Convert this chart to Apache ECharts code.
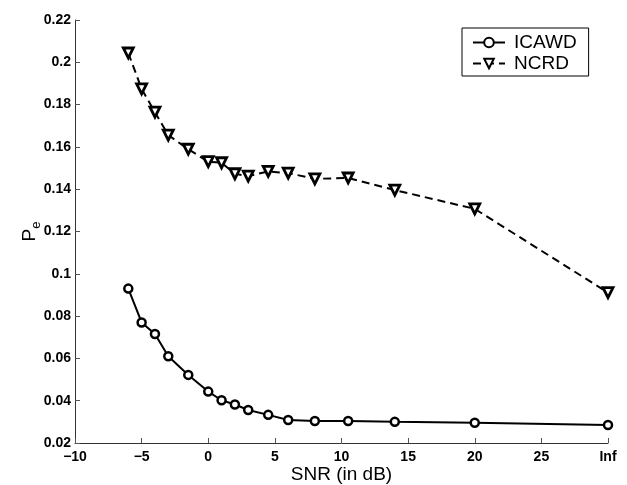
<!DOCTYPE html>
<html>
<head>
<meta charset="utf-8">
<script src="https://cdn.jsdelivr.net/npm/echarts@6/dist/echarts.min.js"></script>
<style>html,body{margin:0;padding:0;background:#fff}#c{width:627px;height:485px}</style>
</head>
<body>
<div id="c"></div>
<script>
const snr = [-6, -5, -4, -3, -1.5, 0, 1, 2, 3, 4.5, 6, 8, 10.5, 14, 20, 30];
const icawd = [0.093, 0.077, 0.0715, 0.061, 0.0522, 0.0443, 0.0402, 0.0382, 0.0356, 0.0333, 0.0309, 0.0304, 0.0304, 0.0300, 0.0296, 0.0285];
const ncrd = [0.2044, 0.1874, 0.1764, 0.1656, 0.1589, 0.153, 0.1525, 0.1473, 0.1462, 0.1484, 0.1476, 0.1449, 0.1453, 0.1396, 0.1307, 0.0911];
const xTickValues = [-10, -5, 0, 5, 10, 15, 20, 25, 30];
const xTickLabels = ['\u221210', '\u22125', '0', '5', '10', '15', '20', '25', 'Inf'];
const seriesNames = ['ICAWD', 'NCRD'];

const FONT = '"Liberation Sans", Arial, Helvetica, sans-serif';
const chart = echarts.init(document.getElementById('c'), null, {renderer: 'canvas'});
function axisLine() { return {show: true, onZero: false, lineStyle: {color: '#333', width: 1}}; }
const tick = {show: true, inside: true, length: 5, lineStyle: {color: '#555', width: 1}};
const labelBase = {color: '#000', fontWeight: 'bold', fontSize: 14, fontFamily: FONT};
chart.setOption({
  animation: false,
  backgroundColor: '#fff',
  grid: {left: 75, right: 19, top: 20, bottom: 42, containLabel: false, outerBoundsMode: 'none'},
  xAxis: {
    type: 'value', min: -10, max: 30, interval: 5,
    axisLine: axisLine(), axisTick: tick, splitLine: {show: false},
    name: 'SNR (in dB)', nameLocation: 'middle', nameGap: 22, nameMoveOverlap: false,
    nameTextStyle: {fontSize: 19, fontFamily: FONT, color: '#000', verticalAlign: 'top'},
    axisLabel: Object.assign({}, labelBase, {
      margin: 7,
      formatter: function (v) { const i = xTickValues.indexOf(v); return i >= 0 ? xTickLabels[i] : ''; }
    })
  },
  yAxis: {
    type: 'value', min: 0.02, max: 0.22, interval: 0.02,
    axisLine: axisLine(), axisTick: tick, splitLine: {show: false},
    name: '{p|P}{e|e}', nameLocation: 'middle', nameGap: 32, nameRotate: 90, nameMoveOverlap: false,
    nameTextStyle: {
      fontFamily: FONT, color: '#000',
      rich: {
        p: {fontSize: 19, fontFamily: FONT, color: '#000', verticalAlign: 'bottom', padding: [0, 0, 4, 0]},
        e: {fontSize: 13, fontFamily: FONT, color: '#000', verticalAlign: 'bottom'}
      }
    },
    axisLabel: Object.assign({}, labelBase, {
      margin: 4,
      formatter: function (v) { return String(parseFloat(v.toFixed(2))); }
    })
  },
  legend: {
    orient: 'vertical', left: 462, top: 28,
    padding: [5, 12, 3, 10],
    borderColor: '#000', borderWidth: 1, backgroundColor: '#fff',
    itemWidth: 32, itemHeight: 12, itemGap: 2,
    textStyle: {fontSize: 19, fontFamily: FONT, color: '#000', lineHeight: 19, padding: [0, 0, 0, 4]},
    data: seriesNames
  },
  series: [
    {
      name: seriesNames[0], type: 'line',
      data: snr.map((x, i) => [x, icawd[i]]),
      symbol: 'circle', symbolSize: 8,
      lineStyle: {color: '#000', width: 2, type: 'solid'},
      itemStyle: {color: '#fff', borderColor: '#000', borderWidth: 2.5}
    },
    {
      name: seriesNames[1], type: 'line',
      data: snr.map((x, i) => [x, ncrd[i]]),
      symbol: 'triangle', symbolRotate: 180, symbolSize: 10,
      lineStyle: {color: '#000', width: 2, type: [8, 5]},
      itemStyle: {color: '#fff', borderColor: '#000', borderWidth: 2.8}
    }
  ]
});
</script>
</body>
</html>
